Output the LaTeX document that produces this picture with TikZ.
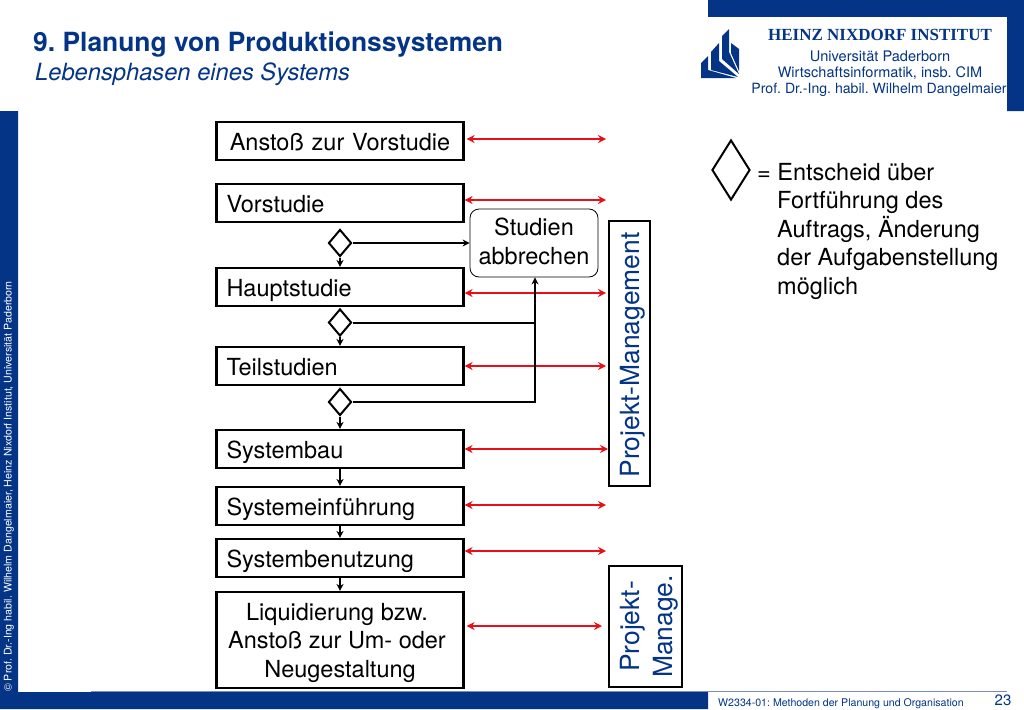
\documentclass[tikz,border=0pt]{standalone}
\usepackage{fontspec}
\setmainfont{TeX Gyre Heros}
\newfontfamily\logofont{Liberation Serif}
\usetikzlibrary{arrows.meta,shapes.geometric}
\definecolor{uniblue}{RGB}{3,52,134}
\definecolor{redarrow}{RGB}{232,16,24}
\tikzset{
  phasebox/.style={draw=black,line width=2.1pt,minimum width=247pt,minimum height=38pt,inner xsep=10pt,text width=227pt,text height=18.5pt,text depth=0pt,align=left,font=\fontsize{23.5}{28.5}\selectfont},
  gatediamond/.style={draw=black,fill=white,line width=2pt,diamond,aspect=0.85,minimum width=23pt,minimum height=27pt,inner sep=0pt},
  pmbox/.style={draw=black,line width=2.1pt,rotate=90,text=uniblue,align=center,inner sep=0pt,font=\fontsize{26.4}{33}\selectfont},
  redlink/.style={{Stealth[length=8pt,width=8pt]}-{Stealth[length=8pt,width=8pt]},draw=redarrow,line width=2.2pt},
  flowlink/.style={-{Stealth[length=7pt,width=7pt]},draw=black,line width=2pt},
  infotext/.style={anchor=west,align=left,inner sep=0pt,font=\fontsize{23.5}{28.6}\selectfont},
}
\begin{document}
\frenchspacing
\begin{tikzpicture}[x=1pt,y=1pt,yscale=-1,xscale=1]
\useasboundingbox (0,0) rectangle (1024,709);

%Frame bars
\fill [uniblue] (708,0) -- (1024,0) -- (1024,111) -- (1007,111) -- (1007,17) -- (708,17) -- cycle ;
\fill [uniblue] (0,111) -- (18,111) -- (18,692) -- (708,692) -- (708,709) -- (0,709) -- cycle ;
\draw [color={rgb, 255:red, 120; green, 140; blue, 185 }, line width=0.8] (91,691.5) -- (1007,691.5) ;

%Logo
\fill [uniblue] (701,63) -- (708,56) -- (708,70) -- (736,78) -- (701,78) -- cycle ;
\fill [uniblue] (711,52) -- (719,43) -- (719,61) -- (738,77) -- (711,70) -- cycle ;
\fill [uniblue] (722,36) -- (729,29) -- (729,52) -- (739,74) -- (722,59) -- cycle ;
\fill [uniblue] (731,43) -- (739,49) -- (739,71) -- (731,53) -- cycle ;

%Title
\node (title) [anchor=west,inner sep=0pt,text=uniblue,font=\fontsize{26.4}{30}\selectfont\bfseries] at (33,45) {9. Planung von Produktionssystemen};
\node (subtitle) [anchor=west,inner sep=0pt,text=uniblue,font=\fontsize{23.7}{28}\selectfont\itshape] at (35,74) {Lebensphasen eines Systems};

%Institute
\node (institut) [inner sep=0pt,text=uniblue,font=\fontsize{17}{20}\selectfont\logofont\bfseries] at (880,35) {HEINZ NIXDORF INSTITUT};
\node (uni) [inner sep=0pt,text=uniblue,font=\fontsize{14.6}{18}\selectfont] at (880,56) {Universität Paderborn};
\node (wi) [inner sep=0pt,text=uniblue,font=\fontsize{14.5}{18}\selectfont] at (880,73) {Wirtschaftsinformatik, insb. CIM};
\node (prof) [inner sep=0pt,text=uniblue,font=\fontsize{14.1}{18}\selectfont] at (879,90) {Prof. Dr.-Ing. habil. Wilhelm Dangelmaier};

%Phase boxes
\node (anstoss) [phasebox,align=center] at (340,141) {Anstoß zur Vorstudie};
\node (vorstudie) [phasebox] at (340,203) {Vorstudie};
\node (hauptstudie) [phasebox] at (340,287) {Hauptstudie};
\node (teilstudien) [phasebox] at (340,366) {Teilstudien};
\node (systembau) [phasebox] at (340,449) {Systembau};
\node (einfuehrung) [phasebox] at (340,506) {Systemeinführung};
\node (benutzung) [phasebox] at (340,558) {Systembenutzung};
\node (liquidierung) [phasebox,minimum height=96pt] at (340,640) {};
\node (liquidierungtext) [inner sep=0pt,align=center,font=\fontsize{23.5}{28.5}\selectfont] at (337,642.5) {Liquidierung bzw.\\Anstoß zur Um- oder\\\hspace*{6pt}Neugestaltung};

%Gates
\node (gateA) [gatediamond] at (340,243) {};
\node (gateB) [gatediamond] at (340,322.5) {};
\node (gateC) [gatediamond] at (340,402) {};

%Abort box
\node (abbruch) [draw=black,line width=0.8pt,rounded corners=9pt,minimum width=128pt,minimum height=68pt,align=center,inner sep=0pt,font=\fontsize{23.5}{29}\selectfont] at (534,243) {\raisebox{0pt}[15pt][0pt]{Studien}\\\raisebox{0pt}[0pt][2pt]{abbrechen}};
\coordinate (merge) at (535,322.5);

%Project management
\node (pmA) [pmbox,minimum width=265pt,minimum height=41pt,text height=19pt,text depth=0pt] at (629.5,353.5) {Projekt-Management\hspace*{3pt}};
\node (pmB) [pmbox,minimum width=121pt,minimum height=73pt] at (645.5,626.5) {\raisebox{0pt}[20pt][0pt]{Projekt-}\\\raisebox{0pt}[0pt][0pt]{Manage.}};

%Red links
\coordinate (endA) at (606,139);
\coordinate (endB) at (606,200);
\coordinate (endC) at (606,293);
\coordinate (endD) at (606,366);
\coordinate (endE) at (608,449);
\coordinate (endF) at (606,505);
\coordinate (endG) at (606,551);
\coordinate (endH) at (602,626);
\draw [redlink] (anstoss.east |- endA) ++(2,0) -- (endA) ;
\draw [redlink] (vorstudie.east |- endB) -- (endB) ;
\draw [redlink] (hauptstudie.east |- endC) -- (endC) ;
\draw [redlink] (teilstudien.east |- endD) -- (endD) ;
\draw [redlink] (systembau.east |- endE) -- (endE) ;
\draw [redlink] (einfuehrung.east |- endF) -- (endF) ;
\draw [redlink] (benutzung.east |- endG) -- (endG) ;
\draw [redlink] (liquidierung.east |- endH) ++(2,0) -- (endH) ;

%Flow links
\draw [flowlink] (gateA) -- (hauptstudie) ;
\draw [flowlink] (gateB) -- (teilstudien) ;
\draw [flowlink] (gateC) -- (systembau) ;
\draw [flowlink] (systembau) -- (einfuehrung) ;
\draw [flowlink] (einfuehrung) -- (benutzung) ;
\draw [flowlink] (benutzung) -- (liquidierung) ;
\draw [flowlink] (gateA) -- (abbruch) ;
\draw [draw=black,line width=2pt] (gateB) -- (merge) ;
\draw [flowlink] (gateC) -| (merge) -- (abbruch.south -| merge) ;

%Legend
\node (legenddiamond) [draw=black,fill=white,line width=2pt,diamond,aspect=0.63,minimum width=38pt,minimum height=60pt,inner sep=0pt] at (731,170) {};
\node (legendA) [infotext] at (757,172) {= Entscheid über};
\node (legendB) [infotext,anchor=north west] at (777,191) {Fortführung des\\Auftrags, Änderung\\der Aufgabenstellung\\möglich};

%Footer
\node (copyright) [inner sep=0pt,anchor=west,rotate=90,text=white,font=\fontsize{10.6}{12}\selectfont] at (9,692) {© Prof. Dr.-Ing habil. Wilhelm Dangelmaier, Heinz Nixdorf Institut, Universität Paderborn};
\node (course) [inner sep=0pt,anchor=west,text=uniblue,font=\fontsize{10.6}{13}\selectfont] at (718,704) {W2334-01: Methoden der Planung und Organisation};
\node (page) [inner sep=0pt,text=uniblue,font=\fontsize{15}{18}\selectfont] at (1003,700) {23};

\end{tikzpicture}
\end{document}
